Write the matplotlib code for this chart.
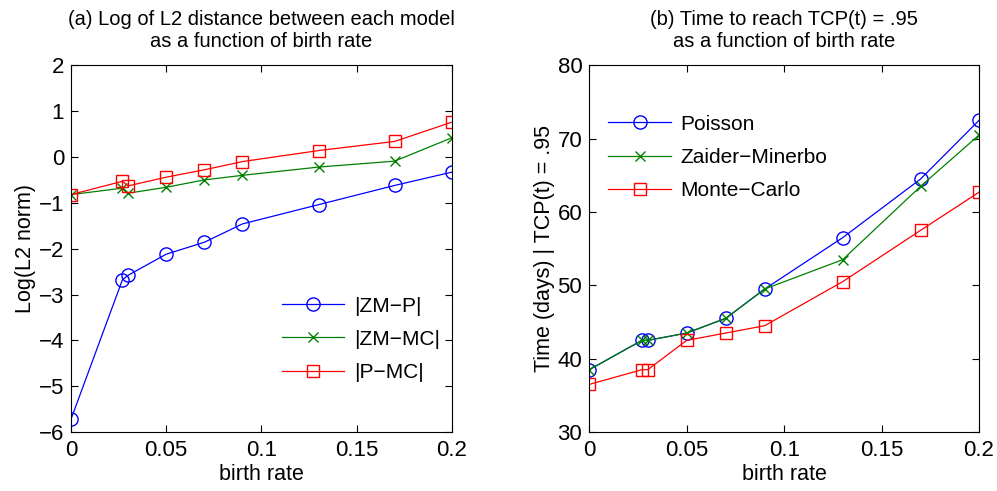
import numpy as np
from matplotlib import pyplot as plt

plt.rcParams['font.family'] = ['Liberation Sans', 'DejaVu Sans']
plt.rcParams['font.size'] = 14.5

birth = [0, 0.027, 0.03, 0.05, 0.07, 0.09, 0.13, 0.17, 0.2]

# log L2 norms between models
zm_p = [-5.72, -2.68, -2.58, -2.12, -1.86, -1.46, -1.04, -0.62, -0.33]
zm_mc = [-0.82, -0.68, -0.79, -0.66, -0.50, -0.40, -0.22, -0.09, 0.42]
p_mc = [-0.82, -0.53, -0.63, -0.44, -0.28, -0.10, 0.14, 0.34, 0.76]

# days until TCP(t) = .95
poisson = [38.5, 42.5, 42.5, 43.5, 45.5, 49.5, 56.5, 64.5, 72.5]
zaider = [38.5, 42.5, 42.5, 43.5, 45.5, 49.5, 53.5, 63.5, 70.5]
monte = [36.5, 38.5, 38.5, 42.5, 43.5, 44.5, 50.5, 57.5, 62.7]

xticks = [0, 0.05, 0.1, 0.15, 0.2]
xticklabels = ['0', '0.05', '0.1', '0.15', '0.2']

blue = (0, 0, 1)
green = (0, 0.5, 0)
red = (1, 0, 0)

fig = plt.figure(figsize=(9.97, 4.91), dpi=100)
ax1 = fig.add_axes([0.0712, 0.12, 0.382, 0.747])
ax2 = fig.add_axes([0.591, 0.12, 0.391, 0.747])

def style(ax):
    ax.tick_params(direction='in', top=True, right=True, length=5, width=0.8,
                   labelsize=16)
    ax.tick_params(axis='x', pad=6)
    ax.tick_params(axis='y', pad=5)
    for s in ax.spines.values():
        s.set_linewidth(0.8)

leg_kw = dict(frameon=False, handlelength=3.0, handletextpad=0.45, fontsize=15,
              borderpad=0, borderaxespad=0, labelspacing=0.68)

ax1.plot(birth, zm_p, '-o', color=blue, mfc='none', ms=9.5, lw=0.9, label='|ZM\u2212P|')
ax1.plot(birth, zm_mc, '-x', color=green, ms=7.5, lw=0.9, label='|ZM\u2212MC|')
ax1.plot(birth, p_mc, '-s', color=red, mfc='none', ms=8.5, lw=0.9, label='|P\u2212MC|')
ax1.set_xlim(0, 0.2)
ax1.set_ylim(-6, 2)
ax1.set_xticks(xticks)
ax1.set_xticklabels(xticklabels)
ax1.set_xlabel('birth rate', fontsize=15.5, labelpad=2)
ax1.set_ylabel('Log(L2 norm)', fontsize=15.5, labelpad=2)
ax1.set_title('(a) Log of L2 distance between each model\nas a function of birth rate',
              fontsize=14.5, linespacing=1.2, pad=13)
ax1.legend(loc='center left', bbox_to_anchor=(0.554, 0.253), **leg_kw)
style(ax1)

ax2.plot(birth, poisson, '-o', color=blue, mfc='none', ms=9.5, lw=0.9, label='Poisson')
ax2.plot(birth, zaider, '-x', color=green, ms=7.5, lw=0.9, label='Zaider\u2212Minerbo')
ax2.plot(birth, monte, '-s', color=red, mfc='none', ms=8.5, lw=0.9, label='Monte\u2212Carlo')
ax2.set_xlim(0, 0.2)
ax2.set_ylim(30, 80)
ax2.set_xticks(xticks)
ax2.set_xticklabels(xticklabels)
ax2.set_xlabel('birth rate', fontsize=15.5, labelpad=2)
ax2.set_ylabel('Time (days) | TCP(t) = .95', fontsize=15.5, labelpad=2)
ax2.set_title('(b) Time to reach TCP(t) = .95\nas a function of birth rate',
              fontsize=14.5, linespacing=1.2, pad=13)
ax2.legend(loc='center left', bbox_to_anchor=(0.049, 0.749), **leg_kw)
style(ax2)

fig.savefig('out.png', dpi=100)
